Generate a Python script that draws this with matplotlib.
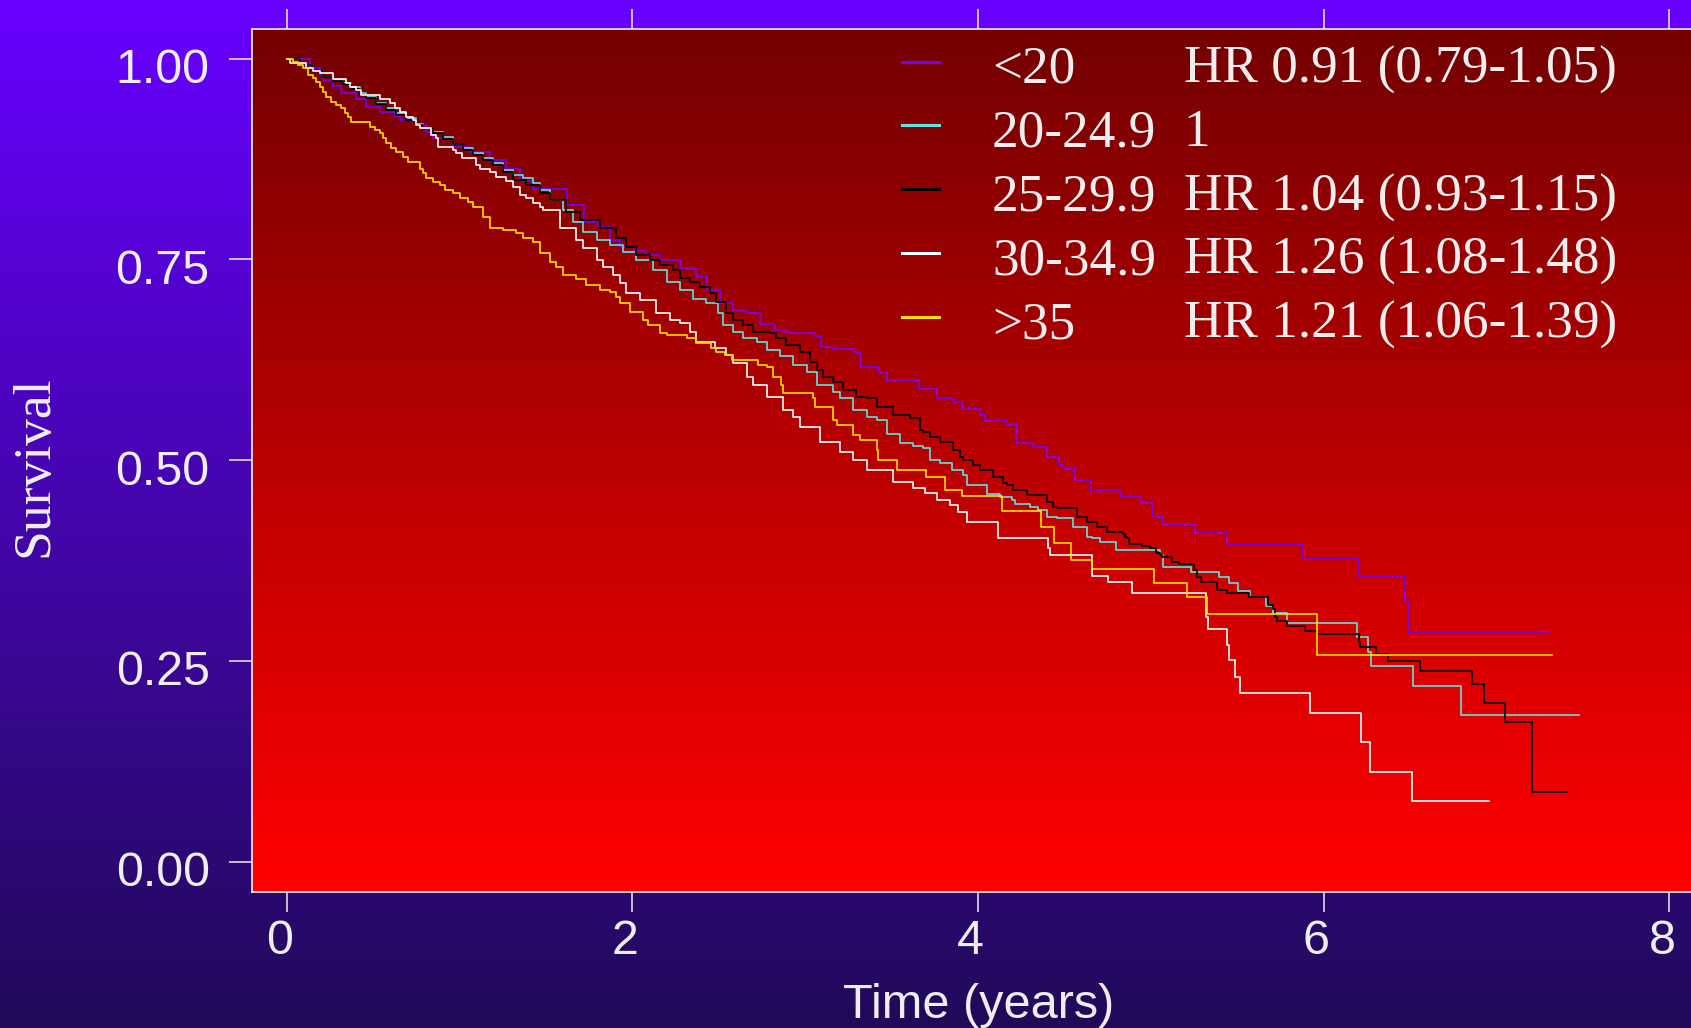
import numpy as np
import matplotlib
matplotlib.use("Agg")
import matplotlib.pyplot as plt
from matplotlib.lines import Line2D
import matplotlib.transforms as mtransforms

# ---------------- data ----------------
groups = ["<20", "20-24.9", "25-29.9", "30-34.9", ">35"]
hr_text = ["HR 0.91 (0.79-1.05)", "1", "HR 1.04 (0.93-1.15)",
           "HR 1.26 (1.08-1.48)", "HR 1.21 (1.06-1.39)"]
colors = ["#7400FF", "#5FE3E3", "#000000", "#FFFFFF", "#FFE000"]

t_lt20 = [0, 0.134, 0.192, 0.211, 0.269, 0.317, 0.404, 0.462, 0.539, 0.626, 0.654, 0.751, 0.809, 0.847,
          0.963, 1.060, 1.175, 1.272, 1.349, 1.426, 1.62, 1.72, 1.81, 1.87, 1.93,
          2.01, 2.08, 2.16, 2.28, 2.37, 2.43, 2.51, 2.58, 2.66, 2.74, 2.82, 2.89, 3.05, 3.09, 3.16,
          3.28, 3.32, 3.43, 3.47, 3.66, 3.76, 3.86, 3.91, 4.01, 4.04, 4.17, 4.22, 4.32, 4.40, 4.47,
          4.49, 4.56, 4.65, 4.83, 4.94, 5.01, 5.07, 5.25, 5.44, 5.88, 6.20, 6.47, 6.49, 7.30]
s_lt20 = [1.0, 0.988, 0.980, 0.973, 0.966, 0.957, 0.950, 0.940, 0.934, 0.928, 0.923, 0.917, 0.909, 0.901,
          0.890, 0.884, 0.874, 0.863, 0.847, 0.838, 0.818, 0.797, 0.790, 0.774, 0.765,
          0.760, 0.755, 0.749, 0.739, 0.728, 0.712, 0.695, 0.687, 0.683, 0.670, 0.662, 0.658, 0.654, 0.641, 0.638,
          0.635, 0.616, 0.608, 0.600, 0.589, 0.577, 0.572, 0.564, 0.556, 0.548, 0.545, 0.521, 0.516, 0.504, 0.494,
          0.490, 0.475, 0.463, 0.454, 0.446, 0.430, 0.420, 0.409, 0.396, 0.378, 0.3555, 0.324, 0.284, 0.284]

t_20_25 = [0, 0.076, 0.153, 0.211, 0.269, 0.326, 0.375, 0.423, 0.462, 0.520, 0.578, 0.635, 0.693, 0.751,
           0.789, 0.847, 0.905, 0.963, 1.021, 1.079, 1.137, 1.194, 1.252, 1.31, 1.368, 1.426, 1.465,
           1.523, 1.60, 1.657, 1.715, 1.793, 1.87, 1.947, 2.024, 2.12,
           2.198, 2.275, 2.352, 2.429, 2.497, 2.526, 2.583, 2.641, 2.719, 2.777, 2.854, 2.931, 3.008, 3.066,
           3.162, 3.201, 3.278, 3.355, 3.413, 3.471, 3.548, 3.625, 3.683, 3.722, 3.78, 3.847, 3.914, 3.934,
           4.05, 4.127, 4.194, 4.213, 4.30, 4.348, 4.40, 4.455, 4.551, 4.628, 4.66, 4.705, 4.80, 5.054,
           5.072, 5.233, 5.394, 5.451, 5.505, 5.571, 5.665, 5.709, 5.785, 6.195, 6.259, 6.276, 6.518, 6.795, 7.475]
s_20_25 = [1.0, 0.992, 0.984, 0.977, 0.973, 0.969, 0.964, 0.957, 0.952, 0.944, 0.938, 0.932, 0.9255, 0.919,
           0.914, 0.909, 0.902, 0.894, 0.888, 0.882, 0.876, 0.8695, 0.861, 0.855, 0.851, 0.845, 0.836,
           0.824, 0.811, 0.797, 0.784, 0.774, 0.768, 0.759, 0.749, 0.737,
           0.722, 0.712, 0.701, 0.695, 0.683, 0.668, 0.660, 0.6515, 0.647, 0.637, 0.629, 0.618, 0.610, 0.593,
           0.585, 0.577, 0.562, 0.554, 0.550, 0.533, 0.521, 0.517, 0.5147, 0.500, 0.496, 0.4875, 0.4815, 0.469,
           0.458, 0.4544, 0.450, 0.445, 0.442, 0.438, 0.4294, 0.4273, 0.417, 0.4045, 0.4025, 0.398, 0.388, 0.3817,
           0.367, 0.361, 0.354, 0.3464, 0.337, 0.329, 0.318, 0.309, 0.2966, 0.280, 0.261, 0.2435, 0.219, 0.1824, 0.1824]

t_25_30 = [0, 0.076, 0.153, 0.211, 0.269, 0.326, 0.375, 0.423, 0.462, 0.52, 0.578, 0.635, 0.693, 0.751,
           0.789, 0.847, 0.905, 0.963, 1.021, 1.079, 1.137, 1.194, 1.252, 1.31, 1.387, 1.465,
           1.523, 1.619, 1.696, 1.812, 1.908, 1.966, 2.024, 2.101, 2.159, 2.236, 2.275, 2.333,
           2.391, 2.449, 2.487, 2.545, 2.583, 2.641, 2.699, 2.796, 2.834, 2.892, 2.969, 3.027, 3.066, 3.104,
           3.162, 3.22, 3.297, 3.355, 3.413, 3.509, 3.606, 3.664, 3.683, 3.722, 3.78, 3.857, 3.895, 3.914,
           3.972, 4.011, 4.088, 4.146, 4.166, 4.204, 4.281, 4.397, 4.435, 4.455, 4.571, 4.628, 4.686, 4.749,
           4.836, 4.852, 4.862, 4.876, 4.946, 4.995, 5.032, 5.05, 5.065, 5.124, 5.163, 5.25, 5.268, 5.29,
           5.384, 5.438, 5.567, 5.676, 5.709, 5.72, 5.73, 5.785, 5.89, 5.964, 6.204, 6.211, 6.305, 6.37,
           6.555, 6.86, 6.926, 7.046, 7.207, 7.41]
s_25_30 = [1.0, 0.992, 0.984, 0.977, 0.972, 0.968, 0.962, 0.955, 0.951, 0.943, 0.936, 0.930, 0.924, 0.917,
           0.913, 0.907, 0.900, 0.893, 0.886, 0.880, 0.874, 0.867, 0.859, 0.849, 0.842, 0.832,
           0.824, 0.809, 0.799, 0.7885, 0.776, 0.7656, 0.7553, 0.749, 0.743, 0.7366, 0.7263, 0.722,
           0.716, 0.7076, 0.697, 0.6827, 0.6744, 0.668, 0.660, 0.6578, 0.6515, 0.6432, 0.635, 0.6225, 0.612, 0.6038,
           0.5975, 0.587, 0.5788, 0.5768, 0.5664, 0.556, 0.5519, 0.5373, 0.535, 0.529, 0.5228, 0.5124, 0.5041, 0.500,
           0.4938, 0.4875, 0.4793, 0.471, 0.469, 0.4627, 0.4564, 0.4481, 0.442, 0.440, 0.4294, 0.4232, 0.417, 0.410,
           0.4075, 0.4045, 0.4025, 0.396, 0.3933, 0.391, 0.3846, 0.3817, 0.3796, 0.3734, 0.3705, 0.363, 0.354, 0.3477,
           0.338, 0.335, 0.329, 0.3194, 0.314, 0.305, 0.300, 0.2937, 0.2875, 0.283, 0.2737, 0.2667, 0.2584, 0.2493,
           0.2376, 0.221, 0.197, 0.174, 0.0862, 0.0862]

t_30_35 = [0, 0.018, 0.115, 0.153, 0.192, 0.269, 0.346, 0.365, 0.404, 0.433, 0.539, 0.597, 0.626, 0.654,
           0.693, 0.732, 0.751, 0.770, 0.838, 0.867, 0.876, 0.963, 0.983, 1.012, 1.098, 1.117, 1.175, 1.214,
           1.272, 1.31, 1.349, 1.388, 1.426, 1.465, 1.484, 1.58, 1.677, 1.715, 1.793, 1.831, 1.889, 1.928, 1.966,
           2.043, 2.14, 2.217, 2.275, 2.333, 2.371, 2.477, 2.545, 2.583, 2.661, 2.699, 2.777, 2.873, 2.931,
           2.969, 3.085, 3.201, 3.278, 3.355, 3.509, 3.625, 3.693, 3.76, 3.837, 3.886, 3.934, 4.117, 4.406,
           4.416, 4.657, 4.753, 4.89, 5.318, 5.333, 5.438, 5.453, 5.486, 5.517, 5.922, 6.214, 6.266, 6.51, 6.958]
s_30_35 = [1.0, 0.994, 0.988, 0.984, 0.982, 0.975, 0.969, 0.965, 0.961, 0.955, 0.950, 0.944, 0.938, 0.934,
           0.9275, 0.923, 0.917, 0.913, 0.905, 0.901, 0.890, 0.886, 0.882, 0.876, 0.867, 0.863, 0.859, 0.853,
           0.847, 0.840, 0.830, 0.826, 0.820, 0.8155, 0.811, 0.7885, 0.774, 0.7636, 0.749, 0.7407, 0.7304, 0.720, 0.7076,
           0.6993, 0.6827, 0.6744, 0.6702, 0.660, 0.6474, 0.639, 0.6308, 0.6204, 0.6038, 0.5934, 0.5788, 0.562, 0.5539,
           0.5415, 0.5228, 0.510, 0.4999, 0.4875, 0.4729, 0.4646, 0.4593, 0.450, 0.4439, 0.4356, 0.4232, 0.4025, 0.3899,
           0.3817, 0.3555, 0.348, 0.335, 0.305, 0.289, 0.270, 0.2505, 0.230, 0.2095, 0.1853, 0.1488, 0.1118, 0.0753, 0.0753]

t_gt35 = [0, 0.037, 0.066, 0.095, 0.124, 0.153, 0.172, 0.192, 0.211, 0.230, 0.259, 0.288, 0.317, 0.336,
          0.355, 0.375, 0.481, 0.510, 0.539, 0.558, 0.578, 0.606, 0.635, 0.674, 0.703, 0.770, 0.789, 0.809,
          0.847, 0.886, 0.915, 0.963, 1.002, 1.050, 1.079, 1.137, 1.175,
          1.252, 1.33, 1.368, 1.426, 1.465, 1.523, 1.561, 1.60, 1.677, 1.735, 1.812, 1.87, 1.908, 1.928,
          1.986, 2.063, 2.092, 2.159, 2.198, 2.314, 2.371, 2.458, 2.487, 2.535, 2.574, 2.728, 2.777, 2.815,
          2.863, 2.873, 3.046, 3.056, 3.162, 3.182, 3.278, 3.317, 3.413, 3.423, 3.529, 3.702, 3.808, 3.905,
          4.137, 4.362, 4.439, 4.536, 4.657, 5.018, 5.207, 5.327, 5.963, 7.318]
s_gt35 = [1.0, 0.996, 0.992, 0.988, 0.9795, 0.9753, 0.971, 0.965, 0.9587, 0.9524, 0.946, 0.942, 0.938, 0.9317,
          0.9275, 0.9213, 0.915, 0.911, 0.9068, 0.9006, 0.8944, 0.888, 0.884, 0.8777, 0.8715, 0.863, 0.857, 0.851,
          0.8466, 0.8425, 0.836, 0.832, 0.826, 0.8217, 0.8155, 0.803, 0.7885,
          0.7864, 0.7822, 0.776, 0.7718, 0.7574, 0.747, 0.7407, 0.7304, 0.726, 0.718, 0.7117, 0.7096, 0.7034, 0.695,
          0.6847, 0.6744, 0.668, 0.6586, 0.6557, 0.6515, 0.6461, 0.639, 0.635, 0.6308, 0.6246, 0.6183, 0.6163, 0.6038,
          0.5934, 0.583, 0.5768, 0.5664, 0.5498, 0.5435, 0.531, 0.5249, 0.5124, 0.4999, 0.4875, 0.4793, 0.4626, 0.4551,
          0.4368, 0.417, 0.3971, 0.3754, 0.3638, 0.3472, 0.329, 0.3082, 0.2572, 0.2572]

xticks = [0, 2, 4, 6, 8]
xtick_labels = ["0", "2", "4", "6", "8"]
yticks = [0.0, 0.25, 0.50, 0.75, 1.00]
ytick_labels = ["0.00", "0.25", "0.50", "0.75", "1.00"]

series_t = [t_lt20, t_20_25, t_25_30, t_30_35, t_gt35]
series_s = [s_lt20, s_20_25, s_25_30, s_30_35, s_gt35]

# ---------------- figure ----------------
W, H = 1691, 1028
TXT = "#EEEEEE"
SANS = ["Liberation Sans", "DejaVu Sans"]
SERIF = ["Liberation Serif", "DejaVu Serif"]

fig = plt.figure(figsize=(W / 100, H / 100), dpi=100)

# figure background gradient
bg = fig.add_axes([0, 0, 1, 1], zorder=-10)
g = np.linspace(0, 1, 512)[:, None, None]
top_c = np.array([104, 0, 255]) / 255.0
bot_c = np.array([32, 10, 88]) / 255.0
bg.imshow(top_c + (bot_c - top_c) * g, aspect="auto", extent=[0, 1, 0, 1], origin="upper")
bg.set_axis_off()

# main axes (extends slightly past the right edge of the figure)
ax_left, ax_right = 252.0, 1704.0
ax_top, ax_bot = 29.3, 891.7
ax = fig.add_axes([ax_left / W, (H - ax_bot) / H, (ax_right - ax_left) / W, (ax_bot - ax_top) / H])
ax.set_facecolor("none")
top_r = np.array([115, 0, 0]) / 255.0
bot_r = np.array([255, 0, 0]) / 255.0
ax.imshow(top_r + (bot_r - top_r) * g, aspect="auto", extent=[0, 1, 0, 1],
          transform=ax.transAxes, origin="upper", zorder=0)

for ts, ss, c in zip(series_t, series_s, colors):
    ax.step(ts, ss, where="post", color=c, lw=1.2, zorder=3)

ax.set_xlim(-0.2, 8.2)
ax.set_ylim(-0.0376, 1.0364)

for side in ["top", "bottom", "left"]:
    ax.spines[side].set_color(TXT)
    ax.spines[side].set_linewidth(1.2)
ax.spines["right"].set_visible(False)

ax.set_xticks(xticks)
ax.set_xticklabels(xtick_labels)
ax.set_yticks(yticks)
ax.set_yticklabels(ytick_labels)
ax.tick_params(axis="x", which="both", direction="out", length=14.4, width=1.1, color=TXT,
               top=True, labeltop=False, labelsize=34.8, labelcolor=TXT, pad=5)
ax.tick_params(axis="y", which="both", direction="out", length=16.5, width=1.1, color=TXT,
               labelsize=34.8, labelcolor=TXT, pad=14)
for lab in ax.get_xticklabels() + ax.get_yticklabels():
    lab.set_fontfamily(SANS)
dx = mtransforms.ScaledTranslation(-7.4 / 100, 0, fig.dpi_scale_trans)
for lab in ax.get_xticklabels():
    lab.set_transform(lab.get_transform() + dx)
dy = mtransforms.ScaledTranslation(0, -7.2 / 100, fig.dpi_scale_trans)
for lab in ax.get_yticklabels():
    lab.set_transform(lab.get_transform() + dy)

# legend (manual, no box)
row0_line, row_step = 61.5, 63.9
for i, (grp, hr, c) in enumerate(zip(groups, hr_text, colors)):
    yl = row0_line + row_step * i
    fig.add_artist(Line2D([902 / W, 938.5 / W], [1 - yl / H, 1 - yl / H], color=c, lw=2.2,
                          transform=fig.transFigure))
    yb = 1 - (yl + 21.0) / H
    fig.text(992 / W, yb, grp, color=TXT, fontsize=38.3, family=SERIF, ha="left", va="baseline")
    fig.text(1183.6 / W, yb, hr, color=TXT, fontsize=38.3, family=SERIF, ha="left", va="baseline")

# axis titles
fig.text(34.5 / W, 1 - 466 / H, "Survival", rotation=90, ha="center", va="center",
         color=TXT, fontsize=38.5, family=SERIF)
fig.text(978.5 / W, (H - 1018) / H, "Time (years)", ha="center", va="baseline",
         color=TXT, fontsize=35, family=SANS)

fig.savefig("out.png", dpi=100)
